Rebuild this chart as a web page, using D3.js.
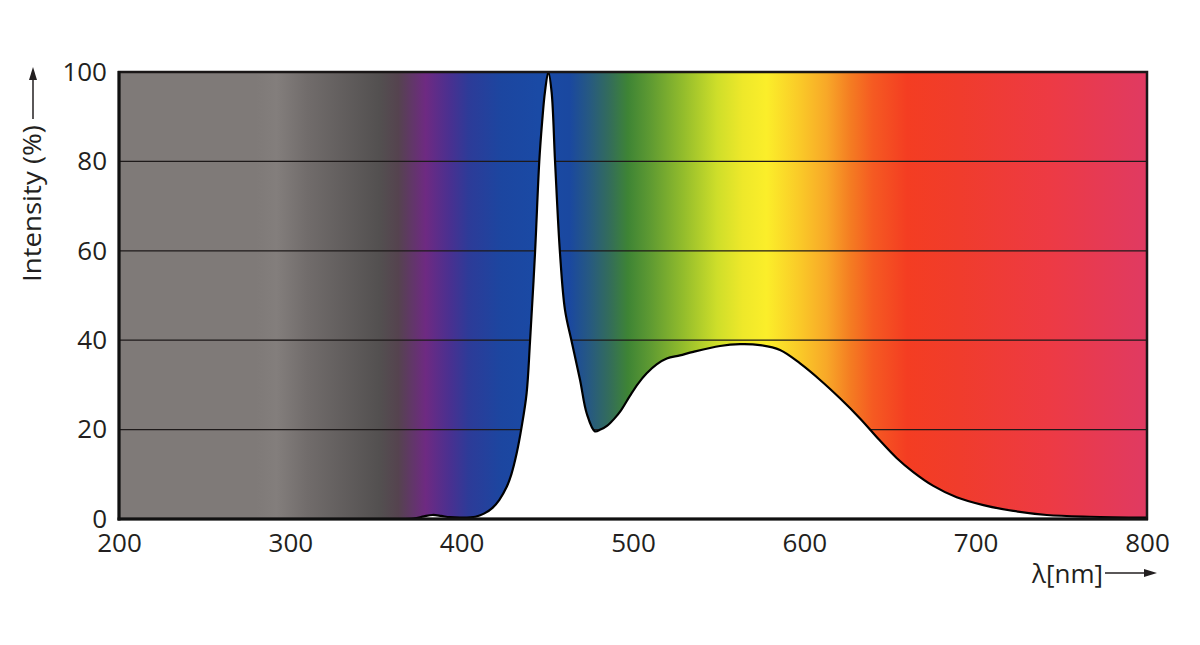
<!DOCTYPE html>
<html>
<head>
<meta charset="utf-8">
<script src="https://cdn.jsdelivr.net/npm/d3@7"></script>
<style>
  html, body { margin: 0; padding: 0; background: #ffffff; }
  svg { display: block; }
  text { font-family: "Open Sans", "Noto Sans", sans-serif; fill: #231f20; }
</style>
</head>
<body>
<svg id="chart" width="1200" height="645"></svg>
<script>
// ---- data ----
const wavelength = [200, 300, 360, 372, 378, 383, 388, 393, 400, 408, 413, 418, 422, 426.3, 429, 432.1, 435, 437.9, 439.9, 442.8, 445.3, 447, 448.6, 450.6, 452.5, 454.5, 457.4, 460.3, 464.2, 469.1, 473, 477.8, 481, 485, 489, 493, 498.3, 503, 508, 513.8, 519.7, 527.4, 535.2, 550.8, 562.5, 574.1, 585.8, 597.5, 609.2, 620.8, 632.5, 644, 654, 663.6, 675.3, 688.9, 704.5, 722, 741.5, 766.7, 800];
const intensity  = [0, 0, 0, 0.1, 0.6, 0.9, 0.7, 0.4, 0.3, 0.5, 1.2, 2.5, 4.3, 7.2, 10.0, 14.7, 20.6, 28.1, 39.7, 59.4, 80, 89, 95.5, 100, 95.5, 80, 59.4, 46.8, 39.7, 31.1, 23.6, 19.6, 20.0, 20.9, 22.4, 24.3, 27.6, 30.3, 32.6, 34.6, 35.9, 36.6, 37.4, 38.7, 39.1, 38.9, 37.8, 34.8, 31.1, 27.0, 22.5, 17.6, 13.6, 10.5, 7.4, 4.85, 3.1, 1.8, 0.9, 0.5, 0.3];
const xTicks = [200, 300, 400, 500, 600, 700, 800];
const yTicks = [0, 20, 40, 60, 80, 100];
const yTitle = "Intensity (%)";
const xTitle = "λ[nm]";

// spectrum background stops (wavelength -> colour)
const spectrumNm  = [200, 280, 292, 310, 352, 363, 379, 393, 404, 423, 445, 463, 475, 487, 497, 510, 529, 549, 564, 578, 598, 613, 627, 640, 660, 690, 743, 800];
const spectrumCol = ["#7f7a78", "#7f7a78", "#837e7c", "#716c6b", "#535050", "#55434f", "#6e2a82", "#4a3090", "#2d3b98", "#1c46a0", "#1a4aa5", "#1a48a0", "#275a80", "#346e58", "#3e8435", "#5e9a32", "#92bc2c", "#cede2a", "#eee82a", "#fbee2a", "#fac828", "#f8a828", "#f47c22", "#f55a22", "#f43d22", "#f03c2c", "#ed3a44", "#e03a62"];

// ---- layout ----
const svg = d3.select("#chart");
const pL = 119, pT = 72, pR = 1147, pB = 519;
const x = d3.scaleLinear().domain([200, 800]).range([pL, pR]);
const y = d3.scaleLinear().domain([0, 100]).range([pB, pT]);

const data = wavelength.map((w, i) => ({ w, v: intensity[i] }));

// gradient
const defs = svg.append("defs");
const grad = defs.append("linearGradient")
  .attr("id", "spec").attr("gradientUnits", "userSpaceOnUse")
  .attr("x1", x(200)).attr("x2", x(800)).attr("y1", 0).attr("y2", 0);
spectrumNm.forEach((nm, i) => {
  grad.append("stop").attr("offset", (nm - 200) / 600).attr("stop-color", spectrumCol[i]);
});

svg.append("rect")
  .attr("x", pL).attr("y", pT)
  .attr("width", pR - pL).attr("height", pB - pT)
  .attr("fill", "url(#spec)");

// gridlines
svg.append("g").selectAll("line")
  .data(yTicks.filter(t => t > 0 && t < 100))
  .join("line")
  .attr("x1", pL).attr("x2", pR)
  .attr("y1", d => y(d)).attr("y2", d => y(d))
  .attr("stroke", "#1e1a1a").attr("stroke-width", 1.2);

// white area under curve
const curve = d3.curveCatmullRom.alpha(0.5);
svg.append("path")
  .datum(data)
  .attr("fill", "#ffffff")
  .attr("d", d3.area().x(d => x(d.w)).y0(y(0)).y1(d => y(Math.max(0, d.v))).curve(curve));

svg.append("path")
  .datum(data)
  .attr("fill", "none")
  .attr("stroke", "#000000")
  .attr("stroke-width", 2.2)
  .attr("stroke-linejoin", "round")
  .attr("d", d3.line().x(d => x(d.w)).y(d => y(d.v)).curve(curve));

// frame
svg.append("rect")
  .attr("x", pL).attr("y", pT)
  .attr("width", pR - pL).attr("height", pB - pT)
  .attr("fill", "none").attr("stroke", "#1a1717").attr("stroke-width", 2.5);
svg.append("line").attr("x1", pL).attr("x2", pL).attr("y1", pT - 1).attr("y2", pB + 1.5)
  .attr("stroke", "#111").attr("stroke-width", 3);
svg.append("line").attr("x1", pL - 1.5).attr("x2", pR + 1).attr("y1", pB).attr("y2", pB)
  .attr("stroke", "#111").attr("stroke-width", 3);

// axes
const yAxis = svg.append("g")
  .attr("transform", `translate(${pL},0)`)
  .call(d3.axisLeft(y).tickValues(yTicks).tickSize(0).tickPadding(12));
yAxis.select(".domain").remove();
yAxis.selectAll("text").style("font-size", "26px").attr("fill", "#231f20");

const xAxis = svg.append("g")
  .attr("transform", `translate(0,${pB})`)
  .call(d3.axisBottom(x).tickValues(xTicks).tickSize(0).tickPadding(15));
xAxis.select(".domain").remove();
xAxis.selectAll("text").style("font-size", "26px").attr("fill", "#231f20");

// titles
svg.append("text")
  .attr("transform", "translate(41,282) rotate(-90)")
  .attr("text-anchor", "start")
  .style("font-size", "25px")
  .attr("textLength", 157)
  .attr("lengthAdjust", "spacingAndGlyphs")
  .text(yTitle);

svg.append("line").attr("x1", 33).attr("x2", 33).attr("y1", 119).attr("y2", 76)
  .attr("stroke", "#231f20").attr("stroke-width", 1.5);
svg.append("path").attr("d", "M33,67 L29,80 L37,80 Z").attr("fill", "#231f20");

svg.append("text")
  .attr("x", 1103).attr("y", 583)
  .attr("text-anchor", "end")
  .style("font-size", "26px")
  .text(xTitle);

svg.append("line").attr("x1", 1105).attr("x2", 1146).attr("y1", 573).attr("y2", 573)
  .attr("stroke", "#231f20").attr("stroke-width", 1.5);
svg.append("path").attr("d", "M1157,573 L1144,569 L1144,577 Z").attr("fill", "#231f20");
</script>
</body>
</html>
